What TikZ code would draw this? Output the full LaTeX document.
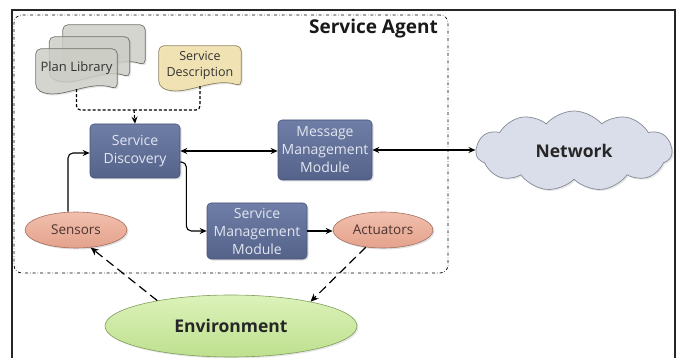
\documentclass[tikz,border=0pt]{standalone}
\usepackage{fontspec}
\setmainfont{Open Sans}
\usetikzlibrary{arrows.meta,shapes.geometric,shapes.symbols,shadows,calc}
\definecolor{boxtop}{HTML}{6F7EA6}
\definecolor{boxbot}{HTML}{55638B}
\definecolor{boxdraw}{HTML}{46537A}
\definecolor{boxtext}{HTML}{E2E6F0}
\definecolor{ovaltop}{HTML}{F1BFAD}
\definecolor{ovalbot}{HTML}{E4A28C}
\definecolor{ovaldraw}{HTML}{A56E5E}
\definecolor{ovaltext}{HTML}{4A3530}
\definecolor{envtop}{HTML}{DCF2BA}
\definecolor{envbot}{HTML}{BEE08E}
\definecolor{envdraw}{HTML}{7F9E5C}
\definecolor{cloudfill}{HTML}{DADEEA}
\definecolor{clouddraw}{HTML}{858995}
\definecolor{libfill}{HTML}{D0D1C9}
\definecolor{libdraw}{HTML}{6E6F69}
\definecolor{descfill}{HTML}{F4E2A8}
\definecolor{descdraw}{HTML}{8C8260}
\newcommand\docshape[3]{%
  \path[draw=#3, fill=#2, fill opacity=0.8, line width=0.7pt, rounded corners=5pt,
        drop shadow={opacity=0.2, shadow xshift=1.5pt, shadow yshift=-1.5pt}]
    (#1.west) -- (#1.north west) -- (#1.north east) -- (#1.south east)
    .. controls ($(#1.south east)!0.35!(#1.south west)+(0,10pt)$)
       and ($(#1.south east)!0.7!(#1.south west)+(0,-12pt)$) .. (#1.south west) -- cycle;}
\begin{document}
\begin{tikzpicture}[x=1pt,y=-1pt,
  svcbox/.style={rectangle, rounded corners=4pt, draw=boxdraw, line width=0.6pt,
    top color=boxtop, bottom color=boxbot, text=boxtext, align=center,
    font=\fontsize{14}{18}\selectfont, inner sep=0pt,
    drop shadow={opacity=0.25, shadow xshift=1.5pt, shadow yshift=-1.5pt}},
  oval/.style={ellipse, draw=ovaldraw, line width=0.6pt, top color=ovaltop, bottom color=ovalbot,
    text=ovaltext, font=\fontsize{13.5}{16}\selectfont, inner sep=0pt,
    minimum width=102pt, minimum height=36pt,
    drop shadow={opacity=0.25, shadow xshift=1.5pt, shadow yshift=-1.5pt}},
  docbox/.style={rectangle, inner sep=0pt},
  doctext/.style={align=center, text=black!80, font=\fontsize{12.5}{16}\selectfont},
  link/.style={line width=1.1pt, -{Stealth[length=7pt,width=6pt]}},
  twoway/.style={line width=1.1pt, {Stealth[length=7pt,width=6pt]}-{Stealth[length=7pt,width=6pt]}},
  dotlink/.style={line width=1.2pt, dash pattern=on 3pt off 2pt},
  envlink/.style={line width=1.2pt, dash pattern=on 9pt off 5pt, -{Stealth[length=8pt,width=7pt]}}
]
\useasboundingbox (0,0) rectangle (680,358);
% outer frame
\draw[line width=1.2pt, black!85] (12,362) -- (12,10) -- (675,10) -- (675,362);
% agent boundary
\node[draw, dash dot, line width=0.7pt, rounded corners=8pt, minimum width=434pt, minimum height=258pt, inner sep=0pt] (agent) at (231,144) {};
\node[anchor=base east, font=\bfseries\fontsize{19}{22}\selectfont, inner sep=0pt, text=black!90] (agentlbl) at (438,34) {Service Agent};
% plan library stack
\node[docbox, minimum width=82pt, minimum height=40pt] (pl3) at (104,45) {};
\node[docbox, minimum width=80pt, minimum height=40pt] (pl2) at (89.5,57) {};
\node[docbox, minimum width=81pt, minimum height=40pt] (pl) at (76.5,69) {};
\docshape{pl3}{libfill}{libdraw}
\docshape{pl2}{libfill}{libdraw}
\docshape{pl}{libfill}{libdraw}
\node[doctext, font=\fontsize{13}{16}\selectfont] (plt) at (76.5,68) {Plan Library};
% service description
\node[docbox, minimum width=82pt, minimum height=40pt] (sdesc) at (200,66) {};
\docshape{sdesc}{descfill}{descdraw}
\node[doctext] (sdesct) at (200,65) {Service\\Description};
% service boxes
\node[svcbox, minimum width=90pt, minimum height=54pt] (sd) at (135,151) {Service\\Discovery};
\node[svcbox, minimum width=94pt, minimum height=60pt] (mmm) at (325,150) {Message\\Management\\Module};
\node[svcbox, minimum width=100pt, minimum height=56pt] (smm) at (257,231) {Service\\Management\\Module};
% ellipses
\node[oval] (sens) at (76,230) {Sensors};
\node[oval, minimum width=100pt] (act) at (383,230) {Actuators};
\node[ellipse, draw=envdraw, line width=0.6pt, top color=envtop, bottom color=envbot,
      minimum width=252pt, minimum height=62pt, inner sep=0pt,
      font=\bfseries\fontsize{17.5}{20}\selectfont, text=black!85,
      drop shadow={opacity=0.2, shadow xshift=1.5pt, shadow yshift=-1.5pt}] (env) at (231,326) {Environment};
% network cloud
\node[cloud, cloud puffs=11, cloud puff arc=100, aspect=2.4, draw=clouddraw, line width=0.7pt,
      fill=cloudfill, minimum width=196pt, minimum height=80pt, inner sep=0pt,
      font=\bfseries\fontsize{17.5}{20}\selectfont, text=black!85,
      drop shadow={opacity=0.2, shadow xshift=1.5pt, shadow yshift=-1.5pt}] (net) at (574,151) {Network};
% dotted inputs
\coordinate (join) at (134,110);
\draw[dotlink, rounded corners=4pt] (pl.south) |- (join);
\draw[dotlink, rounded corners=4pt] (sdesc.south) |- (join);
\draw[dotlink, -{Stealth[length=7pt,width=6pt]}] (join) -- (sd.north);
% solid links
\draw[twoway] (sd.east) -- (sd.east -| mmm.west);
\draw[twoway] (mmm.east) -- (mmm.east -| net.west);
\draw[link, rounded corners=5pt] ([xshift=-8pt]sens.north) |- ([yshift=-2pt]sd.west);
\draw[link, rounded corners=5pt] ([yshift=-11pt]sd.east) -- ++(6pt,0) |- (smm.west);
\draw[link] (smm.east) -- (smm.east -| act.west);
% environment links
\draw[envlink] (env.161) -- (sens.-50);
\draw[envlink] (act.225) -- (env.17);
\end{tikzpicture}
\end{document}
